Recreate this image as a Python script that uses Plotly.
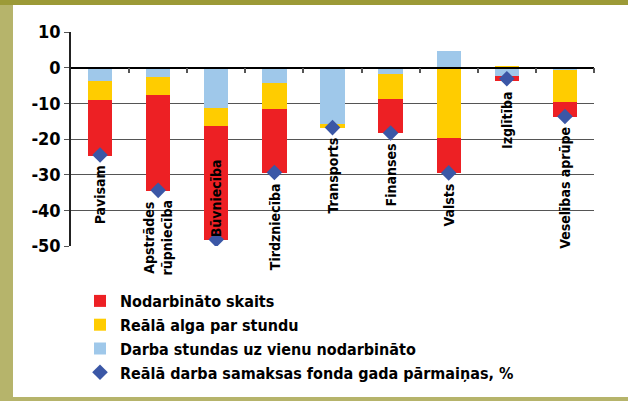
import plotly.graph_objects as go

categories = ["Pavisam", "Apstrādes<br>rūpniecība", "Būvniecība", "Tirdzniecība",
              "Transports", "Finanses", "Valsts", "Izglītība", "Veselības aprūpe"]
nodarbinato = [-15.5, -26.7, -32.0, -17.9, 0.0, -9.5, -9.8, -1.4, -4.1]
alga = [-5.4, -5.1, -5.1, -7.3, -1.0, -7.2, -19.8, 0.6, -9.1]
stundas = [-3.8, -2.7, -11.3, -4.4, -15.9, -1.7, 4.8, -2.4, -0.6]
fonds = [-24.5, -34.4, -48.2, -29.4, -16.8, -18.3, -29.5, -3.1, -13.7]
y_ticks = [10, 0, -10, -20, -30, -40, -50]

FONT = "Liberation Sans Narrow, DejaVu Sans Condensed, Arial Narrow, sans-serif"
RED, YEL, BLU, DIA = "#ed2024", "#ffcc00", "#9fc8ea", "#3b57a6"

x = list(range(len(categories)))
W, H = 628, 401
L, R, T, B = 71, 34, 32, 155
pw, ph = W - L - R, H - T - B

def px(p):
    return (p - L) / pw

def py(p):
    return (H - B - p) / ph

fig = go.Figure()
fig.add_trace(go.Bar(x=x, y=stundas, name="Darba stundas uz vienu nodarbināto",
                     marker=dict(color=BLU, line=dict(width=0)), width=0.42, legendrank=3))
fig.add_trace(go.Bar(x=x, y=alga, name="Reālā alga par stundu",
                     marker=dict(color=YEL, line=dict(width=0)), width=0.42, legendrank=2))
fig.add_trace(go.Bar(x=x, y=nodarbinato, name="Nodarbināto skaits",
                     marker=dict(color=RED, line=dict(width=0)), width=0.42, legendrank=1))
fig.add_trace(go.Scatter(x=x, y=fonds, mode="markers",
                         name="Reālā darba samaksas fonda gada pārmaiņas, %",
                         marker=dict(symbol="diamond", size=12, color=DIA), legendrank=4))

annotations = []
for i, cat in enumerate(categories):
    neg = sum(v for v in (nodarbinato[i], alga[i], stundas[i]) if v < 0)
    bottom = min(neg, fonds[i])
    if cat == "Būvniecība":
        annotations.append(dict(x=i, y=-50, xref="x", yref="y", text=cat, textangle=-90,
                                showarrow=False, yanchor="bottom", xanchor="center", yshift=7,
                                font=dict(family=FONT, size=14, color="black", weight="bold")))
    else:
        annotations.append(dict(x=i, y=bottom, xref="x", yref="y", text=cat, textangle=-90,
                                showarrow=False, yanchor="top", xanchor="center", yshift=-8,
                                font=dict(family=FONT, size=14, color="black", weight="bold")))

OL_D, OL_L = "#9c9a37", "#b6b46b"
shapes = [
    dict(type="rect", xref="paper", yref="paper", x0=px(0), x1=px(W), y0=py(0), y1=py(5),
         fillcolor=OL_D, line=dict(width=0), layer="above"),
    dict(type="rect", xref="paper", yref="paper", x0=px(0), x1=px(13), y0=py(5), y1=py(H),
         fillcolor=OL_L, line=dict(width=0), layer="above"),
    dict(type="rect", xref="paper", yref="paper", x0=px(13), x1=px(W), y0=py(397), y1=py(H),
         fillcolor=OL_L, line=dict(width=0), layer="above"),
]

fig.update_layout(
    width=W, height=H,
    margin=dict(l=L, r=R, t=T, b=B, autoexpand=False),
    paper_bgcolor="white", plot_bgcolor="white",
    barmode="relative", bargap=0,
    showlegend=True,
    legend=dict(x=px(80), y=py(284), xanchor="left", yanchor="top",
                traceorder="normal", bgcolor="rgba(0,0,0,0)",
                font=dict(family=FONT, size=16, color="black", weight="bold"),
                itemsizing="constant", itemwidth=30),
    annotations=annotations,
    shapes=shapes,
    xaxis=dict(range=[-0.5, len(categories) - 0.5], anchor="free", position=50 / 60,
               showline=True, linecolor="black", linewidth=1.5,
               tickmode="array", tickvals=[i + 0.5 for i in x], ticks="outside",
               ticklen=5, tickcolor="#555", tickwidth=1.5,
               showticklabels=False, showgrid=False, zeroline=False, fixedrange=True),
    yaxis=dict(range=[-50, 10], tickmode="array", tickvals=y_ticks,
               ticktext=[str(v) for v in y_ticks],
               showgrid=True, gridcolor="#555", gridwidth=1,
               zeroline=False, showline=True, linecolor="#222", linewidth=1.5,
               ticks="outside", ticklen=5, tickcolor="#555",
               tickfont=dict(family=FONT, size=18, color="black", weight="bold")),
)

fig.write_html("out.html", config={"displayModeBar": False},
               post_script="document.body.style.margin='0';document.body.style.overflow='hidden';")
